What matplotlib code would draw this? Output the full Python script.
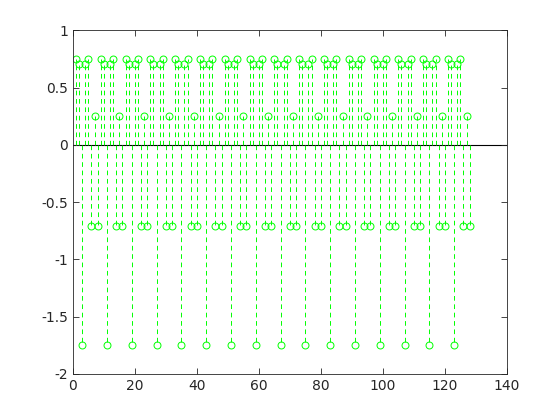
#!/usr/bin/env python3

import numpy as np
import matplotlib
matplotlib.use('agg')
import matplotlib.pyplot as plt

# one period of the signal (n = 1..8)
period = [0.75, 0.707, -1.75, 0.707, 0.75, -0.707, 0.25, -0.707]
n_periods = 16
n = np.arange(1, len(period) * n_periods + 1)
values = np.tile(period, n_periods)

xticks = [0, 20, 40, 60, 80, 100, 120, 140]
yticks = [-2, -1.5, -1, -0.5, 0, 0.5, 1]
yticklabels = ['-2', '-1.5', '-1', '-0.5', '0', '0.5', '1']

plt.rcParams['font.family'] = ['DejaVu Sans']
plt.rcParams['font.size'] = 10

green = (0.0, 1.0, 0.0)
axcol = (0.15, 0.15, 0.15)

fig = plt.figure(figsize=(5.6, 4.2), dpi=100)
ax = fig.add_axes([0.13, 0.11, 0.775, 0.818])

ax.axhline(0, color='black', linewidth=0.8, zorder=1)
markers, stems, base = ax.stem(n, values, basefmt=' ')
stems.set_color(green)
stems.set_linewidth(0.7)
stems.set_linestyle((0, (4.8, 3.8)))
markers.set_marker('o')
markers.set_markersize(5)
markers.set_markerfacecolor('none')
markers.set_markeredgecolor(green)
markers.set_markeredgewidth(0.7)

ax.set_xlim(0, 140)
ax.set_ylim(-2, 1)
ax.set_xticks(xticks)
ax.set_yticks(yticks)
ax.set_yticklabels(yticklabels)
ax.tick_params(direction='in', length=4, width=0.6, colors=axcol,
               top=True, right=True, labelsize=10)
for s in ax.spines.values():
  s.set_color(axcol)
  s.set_linewidth(0.6)

fig.savefig('out.png', dpi=100)
